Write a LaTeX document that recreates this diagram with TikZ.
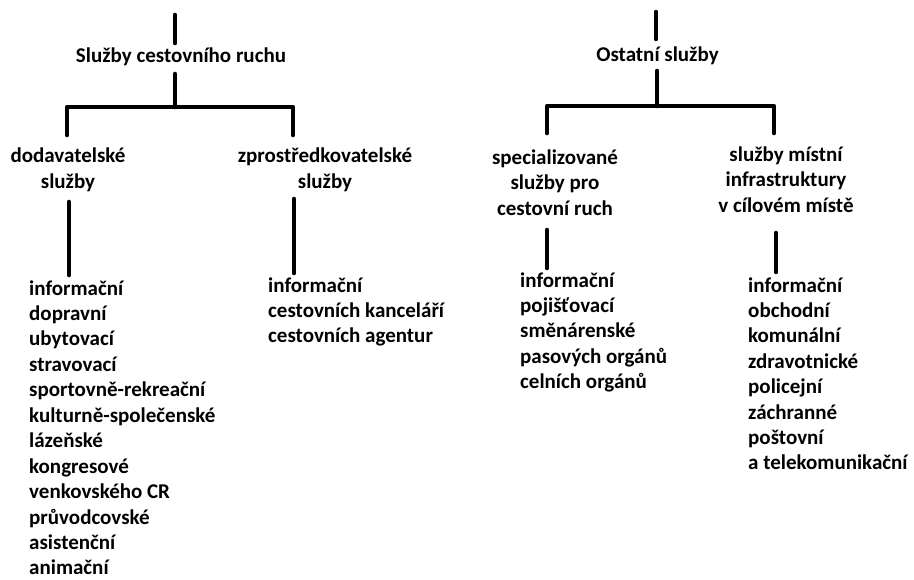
\documentclass[tikz,border=0pt]{standalone}
\usepackage{fontspec}
\setmainfont{Carlito}
\begin{document}
\begin{tikzpicture}[x=1pt,y=-1pt,
  txt/.style={font=\fontsize{21}{25.4}\selectfont\bfseries, inner sep=0pt, text=black},
  hdr/.style={txt, align=center, anchor=base},
  item/.style={txt, anchor=base west},
  bar/.style={line width=4.6pt, line cap=round, line join=round, black}]
\useasboundingbox[fill=white] (0,0) rectangle (914,579);

% ---------- Služby cestovního ruchu ----------
% multi-line headings are placed by the baseline of their last line
\node[hdr] (scr) at (181,62) {Služby cestovního ruchu};
\node[hdr] (dod) at (68,188) {dodavatelské\\služby};
\node[hdr] (zpr) at (325,188) {zprostředkovatelské\\služby};

\coordinate (scrTop) at (175,15);
\coordinate (scrUp) at (175,43);
\coordinate (scrDn) at (175,74);
\coordinate (scrJ) at (175,107);
\coordinate (dodUp) at (67,135);
\coordinate (zprUp) at (293,135);
\coordinate (dodDn) at (69,202);
\coordinate (dodEnd) at (69,275);
\coordinate (zprDn) at (294,199);
\coordinate (zprEnd) at (294,273);

\draw[bar] (scrTop) -- (scrUp);
\draw[bar] (scrDn) -- (scrJ);
\draw[bar] (dodUp) |- (scrJ) -| (zprUp);
\draw[bar] (dodDn) -- (dodEnd);
\draw[bar] (zprDn) -- (zprEnd);

\foreach \t [count=\i] in {informační, dopravní, ubytovací, stravovací,
    sportovně-rekreační, kulturně-společenské, lázeňské, kongresové,
    venkovského CR, průvodcovské, asistenční, animační}
  \node[item] (dod-\i) at (29,{295+25.45*(\i-1)}) {\t};

\foreach \t [count=\i] in {informační, cestovních kanceláří, cestovních agentur}
  \node[item] (zpr-\i) at (268,{292+25.45*(\i-1)}) {\t};

% ---------- Ostatní služby ----------
\node[hdr] (ost) at (657.5,61) {Ostatní služby};
\node[hdr] (spc) at (555,215) {specializované\\služby pro\\cestovní ruch};
\node[hdr] (inf) at (786,212) {služby místní\\infrastruktury\\v cílovém místě};

\coordinate (ostTop) at (656,12);
\coordinate (ostUp) at (656,39);
\coordinate (ostDn) at (657,71);
\coordinate (ostJ) at (657,106);
\coordinate (spcUp) at (547,133);
\coordinate (infUp) at (774,133);
\coordinate (spcDn) at (547,230);
\coordinate (spcEnd) at (547,268);
\coordinate (infDn) at (776,233);
\coordinate (infEnd) at (776,272);

\draw[bar] (ostTop) -- (ostUp);
\draw[bar] (ostDn) -- (ostJ);
\draw[bar] (spcUp) |- (ostJ) -| (infUp);
\draw[bar] (spcDn) -- (spcEnd);
\draw[bar] (infDn) -- (infEnd);

\foreach \t [count=\i] in {informační, pojišťovací, směnárenské,
    pasových orgánů, celních orgánů}
  \node[item] (spc-\i) at (520,{287+25.45*(\i-1)}) {\t};

\foreach \t [count=\i] in {informační, obchodní, komunální, zdravotnické,
    policejní, záchranné, poštovní, a telekomunikační}
  \node[item] (inf-\i) at (748,{292+25.4*(\i-1)}) {\t};
\end{tikzpicture}
\end{document}
